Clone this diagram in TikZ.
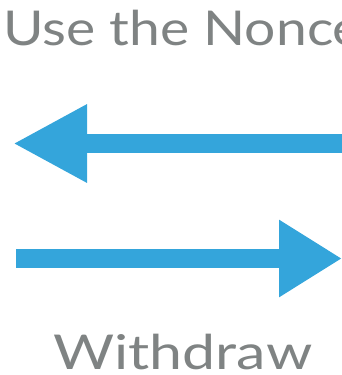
\documentclass[tikz,border=0pt]{standalone}
\usepackage{fontspec}
\setmainfont{Lato}
\usetikzlibrary{arrows.meta}
\definecolor{arrowblue}{HTML}{34A5DB}
\definecolor{labelgray}{HTML}{7F8383}
\newcommand{\widetext}[2]{\scalebox{#1}[1]{#2}}
\tikzset{
  label/.style={font=\fontsize{48}{50}\selectfont, text=labelgray, inner sep=0pt},
  bigarrow/.style={draw=arrowblue, line width=19pt},
}
\begin{document}
\begin{tikzpicture}[x=1pt,y=-1pt]
\useasboundingbox (0,0) rectangle (342,375);
\clip (0,0) rectangle (342,375);
\node[label, anchor=base west] (nonce) at (3,45) {\widetext{1.15}{Use the Nonce}};
\node[label, anchor=base] (withdraw) at (183,369.5) {\widetext{1.23}{Withdraw}};
\coordinate (a1s) at (360,143.5);
\coordinate (a1e) at (13,143.5);
\coordinate (a2s) at (16,258.5);
\coordinate (a2e) at (342,258.5);
\draw[bigarrow, -{Triangle[length=74pt,width=73pt]}] (a1s) -- (a1e);
\draw[bigarrow, -{Triangle[length=63pt,width=73pt]}] (a2s) -- (a2e);
\end{tikzpicture}
\end{document}
